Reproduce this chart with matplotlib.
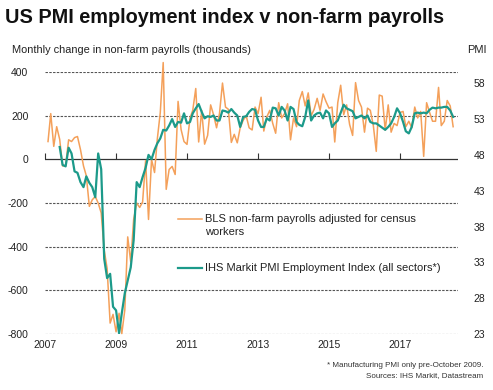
import numpy as np
import pandas as pd
import matplotlib.pyplot as plt
from matplotlib.lines import Line2D

plt.rcParams['font.family'] = ['Liberation Sans', 'DejaVu Sans']

# ─── Data ────────────────────────────────────────────────────────────────────
# BLS non-farm payrolls, monthly change (thousands), Feb 2007 – Jul 2018
nfp_dates = pd.date_range("2007-02-01", "2018-07-01", freq="MS")
nfp = [
    82, 210, 60, 150, 92, -30, -28, 90, 82, 100, 105,                 # 2007
    45, -30, -75, -215, -185, -170, -200, -245, -415, -500, -750, -710,  # 2008
    -790, -705, -798, -690, -355, -470, -275, -200, -220, -195, -5, -275,  # 2009
    0, -60, 92, 215, 444, -137, -46, -32, -69, 266, 137, 82,           # 2010
    69, 190, 225, 325, 80, 225, 70, 110, 250, 205, 145, 210,           # 2011
    350, 240, 230, 78, 115, 76, 145, 180, 200, 145, 135, 240,          # 2012
    210, 285, 130, 195, 225, 165, 120, 260, 190, 210, 255, 90,         # 2013
    190, 150, 270, 311, 245, 305, 200, 230, 280, 225, 300, 265,        # 2014
    235, 240, 80, 260, 340, 205, 250, 160, 110, 352, 270, 240,         # 2015
    125, 235, 225, 155, 37, 295, 290, 135, 250, 125, 165, 155,         # 2016
    215, 220, 150, 175, 145, 240, 190, 220, 14, 260, 215, 175,         # 2017
    175, 330, 155, 175, 270, 245, 150,                                 # 2018
]

# IHS Markit PMI employment index, Jun 2007 – Jul 2018
pmi_dates = pd.date_range("2007-06-01", "2018-07-01", freq="MS")
pmi = [
    49.1, 46.6, 46.4, 49.0, 48.2, 45.7, 45.5,                          # 2007
    44.2, 43.5, 45.0, 44.1, 43.5, 42.1, 48.2, 46.0, 33.5, 30.8, 31.4, 26.8,  # 2008
    26.3, 23.1, 25.9, 28.7, 30.5, 32.3, 36.1, 44.2, 43.5, 44.9, 46.2, 48.0,  # 2009
    47.4, 48.7, 49.6, 50.3, 51.5, 51.4, 52.1, 53.0, 51.9, 52.6, 52.5, 53.8,  # 2010
    52.4, 52.6, 53.8, 54.5, 55.1, 54.0, 53.1, 53.4, 53.3, 53.5, 52.8, 52.8,  # 2011
    54.2, 54.1, 53.9, 54.4, 53.9, 53.5, 51.9, 53.3, 53.4, 54.0, 54.4, 54.3,  # 2012
    52.8, 51.9, 51.9, 53.1, 52.8, 54.6, 54.5, 53.5, 54.7, 54.2, 52.8, 54.7,  # 2013
    54.4, 52.6, 52.2, 52.0, 53.3, 55.6, 52.8, 53.5, 53.8, 53.9, 53.1, 54.2,  # 2014
    53.8, 51.9, 52.4, 52.8, 53.9, 55.0, 54.5, 54.3, 54.1, 53.1, 53.3, 53.5,  # 2015
    53.1, 53.5, 52.6, 52.4, 52.4, 52.1, 51.8, 51.5, 51.9, 52.4, 53.3, 54.5,  # 2016
    53.8, 52.6, 51.3, 51.0, 51.9, 53.8, 53.9, 53.8, 53.9, 53.8, 54.3, 54.6,  # 2017
    54.5, 54.6, 54.6, 54.7, 54.7, 54.2, 53.3,                          # 2018
]

left_ticks = [400, 200, 0, -200, -400, -600, -800]
right_ticks = [23, 28, 33, 38, 43, 48, 53, 58]
year_ticks = pd.to_datetime(["2007-01-01", "2009-01-01", "2011-01-01",
                             "2013-01-01", "2015-01-01", "2017-01-01"])

ORANGE = "#F4A05A"
TEAL = "#1C9A8A"
TXT = "#222222"

# ─── Figure ──────────────────────────────────────────────────────────────────
fig = plt.figure(figsize=(4.93, 3.90), dpi=100)
ax = fig.add_axes([0.0913, 0.1436, 0.8377, 0.6714])
ax2 = ax.twinx()

# the May-2010 spike pokes above the 400 line in the original
ax.plot(nfp_dates, nfp, color=ORANGE, lw=1.1, zorder=3, clip_on=False)
ax2.plot(pmi_dates, pmi, color=TEAL, lw=1.6, zorder=4)

ax.set_xlim(pd.Timestamp("2007-01-01"), pd.Timestamp("2018-08-20"))
ax.set_ylim(-800, 400)
ax2.set_ylim(23, 59.55)

for v in left_ticks:
    if v == 0:
        ax.axhline(v, color="#333333", lw=0.9, zorder=2)
    else:
        ax.axhline(v, color="#555555", lw=0.8, ls=(0, (2.2, 1.2)), zorder=1)

for a in (ax, ax2):
    for s in a.spines.values():
        s.set_visible(False)
ax2.set_zorder(ax.get_zorder() + 1)

ax.set_yticks(left_ticks)
ax.set_yticklabels([str(v) for v in left_ticks])
ax.tick_params(axis="y", length=0, pad=12, labelsize=7.5, labelcolor=TXT)
ax2.set_yticks(right_ticks)
ax2.tick_params(axis="y", length=0, pad=11, labelsize=7.5, labelcolor=TXT)

ax.set_xticks(year_ticks)
ax.set_xticklabels([d.strftime("%Y") for d in year_ticks])
ax.tick_params(axis="x", length=0, pad=4, labelsize=7.5, labelcolor=TXT)

# tick marks on the zero line
zero_ax = ax.secondary_xaxis(2 / 3)
zero_ax.set_xticks(year_ticks)
zero_ax.set_xticklabels([])
zero_ax.tick_params(axis="x", direction="out", length=4, width=0.8, color="#333333")
zero_ax.spines["bottom"].set_visible(False)
zero_ax.spines["top"].set_visible(False)

# ─── Text ────────────────────────────────────────────────────────────────────
fig.text(0.010, 0.955, "US PMI employment index v non-farm payrolls",
         fontsize=14.3, fontweight="bold", color="#111111", va="center")
fig.text(0.024, 0.873, "Monthly change in non-farm payrolls (thousands)",
         fontsize=7.9, color=TXT, va="center")
fig.text(0.947, 0.873, "PMI", fontsize=7.9, color=TXT, va="center")

# legend
fig.add_artist(Line2D([0.361, 0.410], [0.438, 0.438], color=ORANGE, lw=1.1))
fig.text(0.416, 0.438, "BLS non-farm payrolls adjusted for census",
         fontsize=8, color=TXT, va="center")
fig.text(0.416, 0.405, "workers", fontsize=8, color=TXT, va="center")
fig.add_artist(Line2D([0.361, 0.410], [0.313, 0.313], color=TEAL, lw=1.6))
fig.text(0.416, 0.313, "IHS Markit PMI Employment Index (all sectors*)",
         fontsize=8, color=TXT, va="center")

fig.text(0.980, 0.062, "* Manufacturing PMI only pre-October 2009.",
         fontsize=5.8, color="#333333", ha="right", va="center")
fig.text(0.980, 0.038, "Sources: IHS Markit, Datastream",
         fontsize=5.8, color="#333333", ha="right", va="center")

fig.savefig("out.png", dpi=100)
